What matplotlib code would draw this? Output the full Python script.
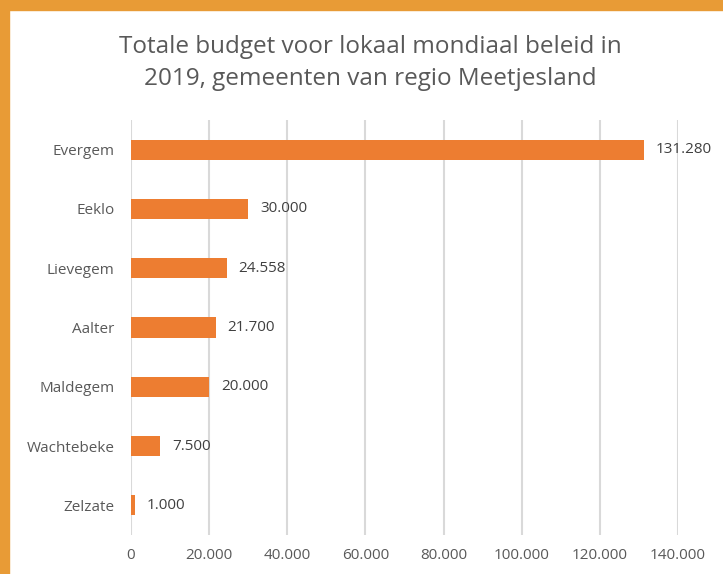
import matplotlib.pyplot as plt
from matplotlib.patches import Rectangle
from matplotlib.ticker import FuncFormatter

gemeenten = ['Evergem', 'Eeklo', 'Lievegem', 'Aalter', 'Maldegem', 'Wachtebeke', 'Zelzate']
budget = [131280, 30000, 24558, 21700, 20000, 7500, 1000]
xticks = [0, 20000, 40000, 60000, 80000, 100000, 120000, 140000]

plt.rcParams['font.family'] = ['Open Sans', 'DejaVu Sans']
grey = '#595959'


def nl(v):
    return f'{v:,.0f}'.replace(',', '.')


fig = plt.figure(figsize=(7.23, 5.74), dpi=100)
ax = fig.add_axes([0.1812, 0.0679, 0.7566, 0.7230])

pos = list(range(len(gemeenten)))
ax.barh(pos, budget, height=0.34, color='#ED7D31', zorder=3)
for p, v in zip(pos, budget):
    ax.text(v + 3000, p, nl(v), va='center', ha='left', fontsize=11, color='#404040', zorder=4)

ax.set_yticks(pos)
ax.set_yticklabels(gemeenten, fontsize=11, color=grey)
ax.set_ylim(len(gemeenten) - 0.5, -0.5)
ax.set_xlim(0, 140000)
ax.set_xticks(xticks)
ax.xaxis.set_major_formatter(FuncFormatter(lambda v, _: nl(v)))
ax.tick_params(axis='x', labelsize=11, labelcolor=grey, length=0, pad=9)
ax.tick_params(axis='y', length=0, pad=12)
ax.grid(axis='x', color='#D9D9D9', linewidth=1.5, zorder=0)
for s in ax.spines.values():
    s.set_visible(False)

fig.text(0.512, 0.891, 'Totale budget voor lokaal mondiaal beleid in\n2019, gemeenten van regio Meetjesland',
         ha='center', va='center', fontsize=17.5, color=grey, linespacing=1.45)

# orange frame on top and left
fig.patches.append(Rectangle((0, 0), 9 / 723, 1, transform=fig.transFigure, color='#E89B36', zorder=10))
fig.patches.append(Rectangle((0, 1 - 10 / 574), 1, 10 / 574, transform=fig.transFigure, color='#E89B36', zorder=10))

fig.savefig('out.png', dpi=100)
